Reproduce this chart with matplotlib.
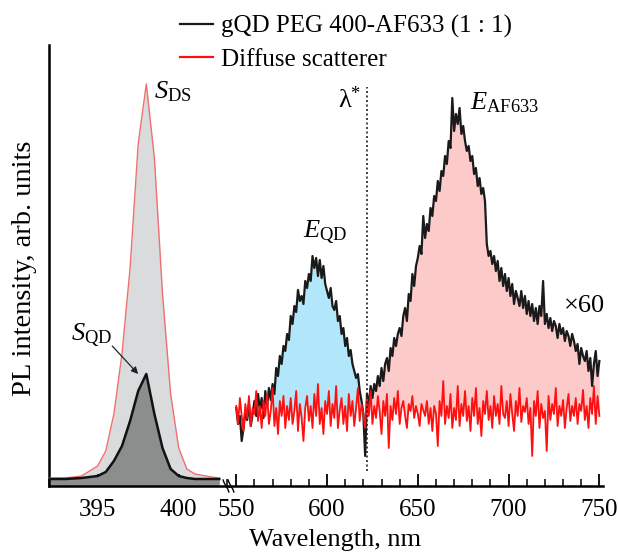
import numpy as np
import matplotlib
matplotlib.use("Agg")
import matplotlib.pyplot as plt
from matplotlib.ticker import MultipleLocator
from matplotlib.lines import Line2D

plt.rcParams['font.family'] = ['Liberation Serif', 'DejaVu Serif']
plt.rcParams['mathtext.fontset'] = 'custom'
plt.rcParams['mathtext.rm'] = 'Liberation Serif'
plt.rcParams['mathtext.it'] = 'Liberation Serif:italic'

# ---------------- data ----------------
# excitation (scatter) region, nm
wl_ex = [392, 393, 394, 395, 395.5, 396, 396.5, 397, 397.5, 398, 398.5, 399,
         399.5, 400, 400.5, 401, 402, 402.5]
ds_ex = [0.08, 0.08, 0.10, 0.20, 0.35, 0.72, 1.32, 2.18, 3.42, 4.02, 3.28, 1.92,
         0.92, 0.38, 0.17, 0.12, 0.09, 0.08]
qd_ex = [0.07, 0.07, 0.08, 0.10, 0.14, 0.25, 0.40, 0.65, 0.95, 1.12, 0.72, 0.38,
         0.17, 0.10, 0.08, 0.07, 0.07, 0.07]

# emission region (x60), 550..750 nm step 1 nm
wl_em = list(range(550, 751))
qd_em = [
    0.78, 0.62, 0.70, 0.45, 0.58, 0.75, 0.66, 0.82, 0.60, 0.72,
    0.85, 0.70, 0.92, 0.76, 0.88, 0.68, 0.95, 0.80, 0.98, 0.86,
    1.02, 0.92, 1.18, 1.10, 1.30, 1.22, 1.40, 1.35, 1.52, 1.46,
    1.70, 1.62, 1.80, 1.74, 1.96, 1.85, 1.90, 1.82, 2.05, 1.98,
    2.12, 2.05, 2.30, 2.18, 2.28, 2.10, 2.26, 2.08, 2.20, 2.02,
    1.95, 1.88, 1.98, 1.80, 1.76, 1.85, 1.65, 1.70, 1.52, 1.58,
    1.40, 1.48, 1.30, 1.36, 1.22, 1.15, 1.08, 1.12, 0.95, 0.85,
    0.72, 0.30, 0.92, 0.80, 1.00, 0.88, 1.02, 0.95, 1.10, 1.00,
    1.18, 1.05, 1.22, 1.28, 1.15, 1.38, 1.30, 1.48, 1.40, 1.52,
    1.58, 1.50, 1.70, 1.78, 1.65, 1.92, 1.85, 2.12, 2.00, 2.20,
    2.28, 2.40, 2.32, 2.70, 2.48, 2.62, 2.55, 2.78, 2.70, 2.90,
    2.85, 3.05, 2.95, 3.15, 3.10, 3.30, 3.22, 3.45, 3.38, 3.88,
    3.55, 3.72, 3.62, 3.78, 3.52, 3.60, 3.45, 3.35, 3.40, 3.25,
    3.30, 3.12, 3.18, 3.00, 3.08, 2.92, 2.98, 2.85, 2.42, 2.30,
    2.35, 2.22, 2.30, 2.15, 2.25, 2.05, 2.18, 2.00, 2.12, 1.95,
    2.08, 1.90, 2.02, 1.82, 1.95, 1.88, 1.80, 1.95, 1.78, 1.90,
    1.72, 1.85, 1.70, 1.82, 1.65, 1.78, 1.62, 1.80, 1.70, 2.05,
    1.62, 1.72, 1.58, 1.68, 1.55, 1.65, 1.60, 1.48, 1.62, 1.52,
    1.58, 1.45, 1.55, 1.50, 1.40, 1.52, 1.45, 1.35, 1.42, 1.22,
    1.38, 1.30, 1.25, 1.35, 1.15, 1.28, 1.00, 1.22, 1.35, 1.10,
    1.25]
ds_em = [
    0.80, 0.62, 0.88, 0.70, 0.55, 0.82, 0.68, 0.90, 0.60, 0.78,
    0.72, 0.95, 0.65, 0.80, 0.58, 0.85, 0.70, 0.92, 0.62, 0.75,
    0.98, 0.60, 0.78, 0.52, 0.85, 0.70, 0.90, 0.58, 0.80, 0.66,
    0.88, 0.62, 0.75, 0.95, 0.55, 0.82, 0.68, 0.45, 0.78, 0.90,
    0.65, 0.80, 0.58, 0.92, 0.70, 1.02, 0.62, 0.78, 0.52, 0.85,
    0.72, 0.95, 0.60, 0.82, 0.68, 1.00, 0.58, 0.76, 0.88, 0.62,
    0.80, 0.55, 0.92, 0.70, 0.85, 0.60, 0.78, 0.98, 0.65, 0.82,
    0.72, 0.58, 0.88, 0.70, 0.95, 0.62, 0.80, 0.68, 0.90, 0.74,
    0.52, 0.85, 0.70, 0.92, 0.38, 0.80, 0.66, 0.88, 0.72, 0.95,
    0.62, 0.78, 0.85, 0.70, 0.58, 0.82, 0.75, 0.90, 0.68, 0.80,
    0.72, 0.60, 0.82, 0.76, 0.70, 0.85, 0.62, 0.78, 0.55, 0.80,
    0.72, 0.40, 0.85, 0.70, 1.05, 0.62, 0.80, 0.68, 0.92, 0.58,
    0.78, 0.66, 1.00, 0.60, 0.82, 0.70, 0.95, 0.65, 0.80, 0.55,
    0.88, 0.70, 0.98, 0.62, 0.78, 0.50, 0.85, 0.72, 0.95, 0.66,
    0.80, 0.58, 0.90, 0.70, 0.82, 0.62, 1.00, 0.72, 0.68, 0.85,
    0.60, 0.92, 0.72, 0.55, 0.85, 0.70, 0.98, 0.64, 0.80, 0.74,
    0.88, 0.62, 0.78, 0.30, 0.85, 0.70, 0.95, 0.58, 0.82, 0.68,
    0.75, 0.35, 0.90, 0.66, 0.82, 0.72, 0.98, 0.60, 0.80, 0.70,
    0.86, 0.58, 0.78, 0.92, 0.65, 0.80, 0.70, 0.88, 0.62, 0.82,
    0.75, 0.96, 0.66, 0.80, 0.58, 0.88, 0.72, 1.00, 0.62, 0.90,
    0.70]

qd_band = (571, 619)
af_band = (623, 750)
lambda_star = 622

label_qd = 'gQD PEG 400-AF633 (1 : 1)'
label_ds = 'Diffuse scatterer'

# ---------------- figure ----------------
W, H = 618, 552
fig = plt.figure(figsize=(W / 100, H / 100), dpi=100)
bot = (552 - 486) / H
top = (552 - 45) / H
x_left, x_brk, x_right = 49 / W, 229 / W, 603 / W
axL = fig.add_axes([x_left, bot, x_brk - x_left, top - bot])
axR = fig.add_axes([x_brk, bot, x_right - x_brk, top - bot], sharey=axL)

ylim = (0, 4.41)
FS = 19

# left part
xe = np.array(wl_ex); d = np.array(ds_ex); q = np.array(qd_ex)
axL.fill_between(xe, 0, d, color='#d9dbdc', lw=0, zorder=1)
axL.plot(xe, d, color='#f07070', lw=1.0, zorder=3)
axL.fill_between(xe, 0, q, color='#8c8d8d', lw=0, zorder=2)
axL.plot(xe, q, color='#111111', lw=1.8, zorder=4)
axL.set_xlim(392, 403.1)
axL.set_ylim(*ylim)

# right part
xm = np.array(wl_em); qm = np.array(qd_em); dm = np.array(ds_em)
m1 = (xm >= qd_band[0]) & (xm <= qd_band[1])
m2 = (xm >= af_band[0]) & (xm <= af_band[1])
axR.fill_between(xm, dm, qm, where=m1 & (qm > dm), interpolate=True,
                 color='#b2e6fa', lw=0, zorder=1)
axR.fill_between(xm, dm, qm, where=m2 & (qm > dm), interpolate=True,
                 color='#fdcaca', lw=0, zorder=1)
axR.plot(xm, qm, color='#1a1a1a', lw=1.6, zorder=3)
axR.plot(xm, dm, color='#ff1010', lw=1.3, zorder=4)
axR.plot([lambda_star, lambda_star], [0.15, 3.99], color='#222222',
         lw=1.2, ls=(0, (1.2, 1.5)), zorder=5)
axR.set_xlim(546, 752)

# spines / ticks
for ax in (axL, axR):
    ax.spines['top'].set_visible(False)
    ax.spines['right'].set_visible(False)
    ax.spines['bottom'].set_linewidth(1.8)
    ax.tick_params(axis='x', which='major', direction='in', length=9, width=1.3,
                   labelsize=18, pad=9)
    ax.tick_params(axis='x', which='minor', direction='in', length=5, width=1.1)
    ax.tick_params(axis='y', left=False, labelleft=False)
axL.spines['left'].set_linewidth(1.8)
axR.spines['left'].set_visible(False)
axL.xaxis.set_major_locator(MultipleLocator(5))
axL.xaxis.set_minor_locator(MultipleLocator(1))
axR.xaxis.set_major_locator(MultipleLocator(50))
axR.xaxis.set_minor_locator(MultipleLocator(10))
axL.set_xticks([395, 400])
axR.set_xticks([550, 600, 650, 700, 750])

# break marks
for dx in (-3, 2):
    t = np.linspace(-1, 1, 20)
    xs = 229 + dx + 2.2 * np.sin(t * np.pi / 2) * 0.6 + t * 1.5
    ys = 486 + t * 6
    fig.add_artist(Line2D(xs / W, 1 - ys / H, color='black', lw=1.0))

# annotations
axL.text(398.5, 3.94, r'$S_{\mathrm{DS}}$', fontsize=FS, va='center', ha='left')
axL.text(394.6, 1.51, r'$S_{\mathrm{QD}}$', fontsize=FS, va='center', ha='center')
axL.annotate('', xy=(397.5, 1.12), xytext=(395.9, 1.40),
             arrowprops=dict(arrowstyle='-|>', color='#222222', lw=0.9,
                             mutation_scale=10, shrinkA=0, shrinkB=0))
axR.text(586.5, 2.54, r'$E_{\mathrm{QD}}$', fontsize=FS, va='center', ha='left')
axR.text(678.5, 3.83, r'$E_{\mathrm{AF633}}$', fontsize=FS, va='center', ha='left')
axR.text(619, 3.86, r'λ$^{*}$', fontsize=FS, va='center', ha='right')
axR.text(730.5, 1.80, '×60', fontsize=FS, va='center', ha='left')

fig.text(25 / W, 1 - 268 / H, 'PL intensity, arb. units', rotation=90,
         fontsize=20.5, ha='center', va='center')
fig.text(335 / W, 1 - 540 / H, 'Wavelength, nm', fontsize=FS,
         ha='center', va='center')

handles = [Line2D([], [], color='#1a1a1a', lw=1.6),
           Line2D([], [], color='#ff1010', lw=1.6)]
fig.legend(handles, [label_qd, label_ds], loc='upper left',
           bbox_to_anchor=(180 / W, 1 - 15 / H), frameon=False, fontsize=18,
           handlelength=1.3, handletextpad=0.35, labelspacing=0.4,
           borderaxespad=0, borderpad=0)

fig.savefig('out.png', dpi=100)
